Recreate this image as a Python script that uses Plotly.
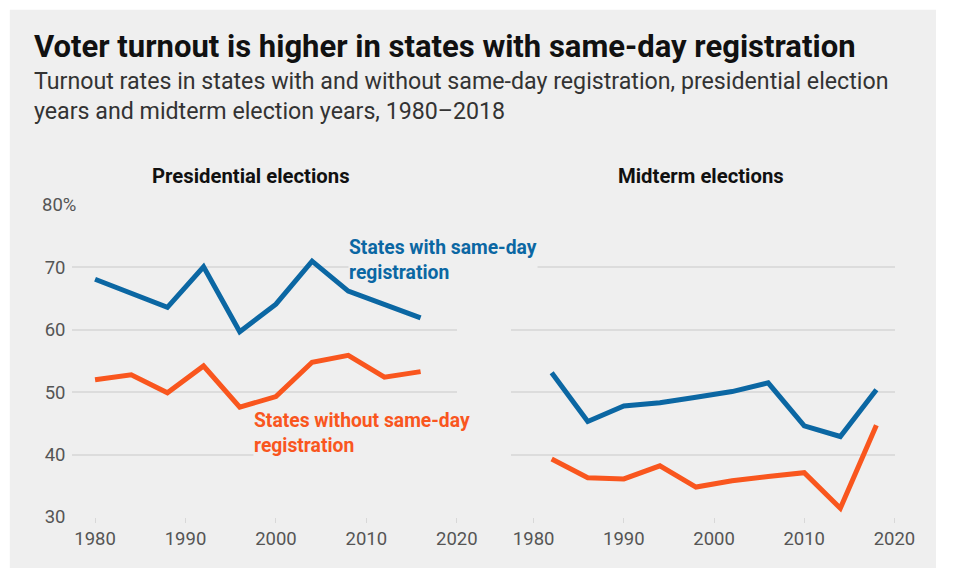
import plotly.graph_objects as go

pres_years = [1980, 1984, 1988, 1992, 1996, 2000, 2004, 2008, 2012, 2016]
pres_sdr = [68.1, 65.9, 63.6, 70.1, 59.7, 64.1, 71.0, 66.2, 64.0, 61.9]
pres_no_sdr = [52.0, 52.8, 49.9, 54.2, 47.6, 49.3, 54.8, 55.9, 52.4, 53.3]

mid_years = [1982, 1986, 1990, 1994, 1998, 2002, 2006, 2010, 2014, 2018]
mid_sdr = [53.1, 45.3, 47.8, 48.3, 49.2, 50.1, 51.5, 44.6, 42.9, 50.4]
mid_no_sdr = [39.3, 36.3, 36.1, 38.2, 34.8, 35.8, 36.5, 37.1, 31.4, 44.7]

y_ticks = [30, 40, 50, 60, 70, 80]
y_tick_text = ["30", "40", "50", "60", "70", ""]
x_ticks = [1980, 1990, 2000, 2010, 2020]

BLUE = "#0b67a3"
ORANGE = "#f9561e"
BG = "#efefef"
FONT = "Roboto"

W, H = 956, 579

def px(x):
    return x / W

def py(y):
    return 1 - y / H

fig = go.Figure()
fig.add_trace(go.Scatter(x=pres_years, y=pres_sdr, mode="lines", line=dict(color=BLUE, width=5), xaxis="x", yaxis="y", hoverinfo="skip"))
fig.add_trace(go.Scatter(x=pres_years, y=pres_no_sdr, mode="lines", line=dict(color=ORANGE, width=5), xaxis="x", yaxis="y", hoverinfo="skip"))
fig.add_trace(go.Scatter(x=mid_years, y=mid_sdr, mode="lines", line=dict(color=BLUE, width=5), xaxis="x2", yaxis="y2", hoverinfo="skip"))
fig.add_trace(go.Scatter(x=mid_years, y=mid_no_sdr, mode="lines", line=dict(color=ORANGE, width=5), xaxis="x2", yaxis="y2", hoverinfo="skip"))

xcommon = dict(range=[1977.5, 2020.05], tickvals=x_ticks, showgrid=False, zeroline=False, showline=False,
               ticks="outside", ticklen=5, tickcolor="#d8d8d8", tickwidth=1,
               tickfont=dict(family=FONT, size=18.5, color="#555555"), fixedrange=True)
ycommon = dict(range=[30, 80], tickvals=y_ticks, showgrid=True, gridcolor="#dcdcdc", gridwidth=1.5,
               zeroline=False, showline=False, fixedrange=True)

ytop, ybot = py(209), py(527)
fig.update_layout(
    width=W, height=H,
    margin=dict(l=0, r=0, t=0, b=0),
    paper_bgcolor="white", plot_bgcolor="rgba(0,0,0,0)",
    showlegend=False,
    xaxis=dict(domain=[px(74), px(467)], anchor="y", **xcommon),
    yaxis=dict(domain=[ybot, ytop], anchor="x", ticktext=y_tick_text, showticklabels=True,
               tickfont=dict(family=FONT, size=18.5, color="#555555"), ticklabelstandoff=6, **ycommon),
    xaxis2=dict(domain=[px(522), px(914)], anchor="y2", **xcommon),
    yaxis2=dict(domain=[ybot, ytop], anchor="x2", showticklabels=False, **ycommon),
    shapes=[dict(type="rect", xref="paper", yref="paper", x0=px(10), x1=1, y0=0, y1=py(10),
                 fillcolor=BG, line=dict(width=0), layer="below")],
)

anns = [
    dict(text="<b>Voter turnout is higher in states with same-day registration</b>", x=px(34), y=py(47),
         xanchor="left", yanchor="middle", font=dict(family=FONT, size=31, color="#111111")),
    dict(text="Turnout rates in states with and without same-day registration, presidential election<br>years and midterm election years, 1980–2018",
         x=px(34), y=py(98), xanchor="left", yanchor="middle", align="left",
         font=dict(family=FONT, size=23.2, color="#333333")),
    dict(text="<b>Presidential elections</b>", x=px(256), y=py(179), xanchor="center", yanchor="middle",
         font=dict(family=FONT, size=20.3, color="#111111")),
    dict(text="<b>Midterm elections</b>", x=px(716), y=py(179), xanchor="center", yanchor="middle",
         font=dict(family=FONT, size=20.3, color="#111111")),
    dict(text="80%", x=px(42), y=py(209), xanchor="left", yanchor="middle",
         font=dict(family=FONT, size=18.5, color="#555555")),
    dict(text="<b>States with same-day<br>registration</b>", x=px(355), y=py(265), xanchor="left", yanchor="middle",
         align="left", bgcolor=BG, font=dict(family=FONT, size=19.3, color=BLUE)),
    dict(text="<b>States without same-day<br>registration</b>", x=px(258), y=py(441), xanchor="left", yanchor="middle",
         align="left", bgcolor=BG, font=dict(family=FONT, size=19.3, color=ORANGE)),
]
for a in anns:
    a.update(xref="paper", yref="paper", showarrow=False, borderpad=0)
fig.update_layout(annotations=anns)

post = (
    "document.documentElement.style.margin='0';document.documentElement.style.padding='0';"
    "document.body.style.margin='0';document.body.style.padding='0';"
    "document.documentElement.style.overflow='hidden';document.body.style.overflow='hidden';"
)
fig.write_html("out.html", config={"displayModeBar": False}, post_script=post)
